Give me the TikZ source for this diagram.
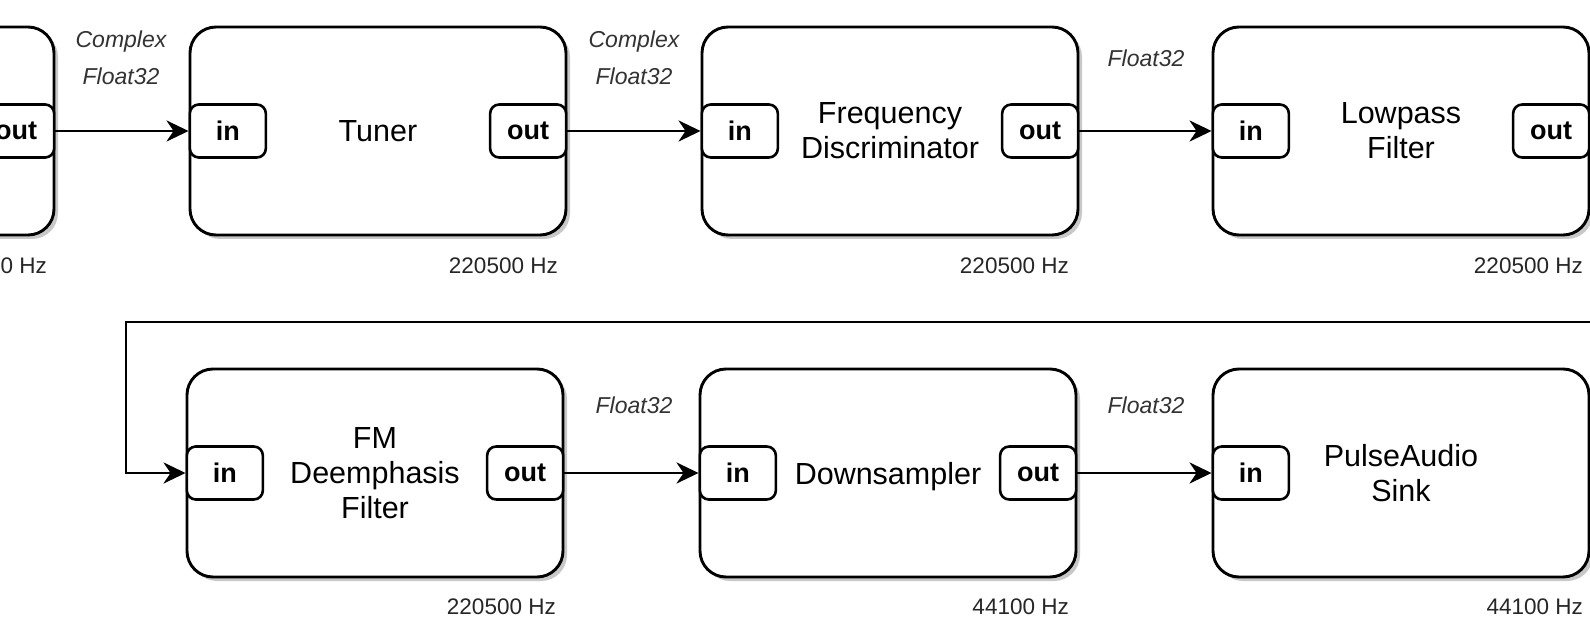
\documentclass[tikz,border=0pt]{standalone}
\usepackage{fontspec}
\setmainfont{Liberation Sans}
\usetikzlibrary{arrows.meta,shadows}
\newcommand\blkfont{\fontsize{30.5}{35}\selectfont}
\newcommand\prtfont{\fontsize{27}{30}\selectfont\bfseries}
\newcommand\hzfont{\fontsize{22.5}{26}\selectfont}
\newcommand\edgfont{\fontsize{23}{26}\selectfont\itshape}
\tikzset{
  blockbox/.style={draw, line width=2.9pt, rounded corners=26pt,
    minimum width=376pt, minimum height=208pt, fill=white, inner sep=0pt,
    font=\blkfont, align=center,
    drop shadow={shadow xshift=4pt, shadow yshift=-4pt, fill=black!30, opacity=0.7}},
  portbox/.style={draw, line width=2.6pt, rounded corners=9pt,
    minimum width=76pt, minimum height=53pt, fill=white, inner sep=0pt, font=\prtfont},
  hzlabel/.style={font=\hzfont, text=black!85, anchor=east, inner sep=0pt},
  edgelabel/.style={font=\edgfont, text=black!80, anchor=base, inner sep=0pt},
  conn/.style={line width=2.9pt, -{Stealth[length=22pt, width=21pt, inset=7pt]}},
}
\begin{document}
\begin{tikzpicture}[x=1pt,y=-1pt]
\useasboundingbox (0,0) rectangle (1590,636);
\fill[white] (0,0) rectangle (1590,636);
\clip (0,0) rectangle (1590,636);

% row 1
\node[blockbox] (src) at (-134,131) {};
\node[blockbox] (tuner) at (378,131) {Tuner};
\node[blockbox] (fdisc) at (890,131) {Frequency\\Discriminator};
\node[blockbox] (lowp) at (1401,131) {Lowpass\\Filter};

% row 2
\node[blockbox] (fmde) at (375,473) {FM\\Deemphasis\\Filter};
\node[blockbox] (down) at (888,473) {\raisebox{-4pt}[\height][\depth]{Downsampler}};
\node[blockbox] (pulse) at (1401,473) {PulseAudio\\Sink};

% ports
\node[portbox, anchor=east] (srcout) at (src.east) {out};
\node[portbox, anchor=west] (tunerin) at (tuner.west) {in};
\node[portbox, anchor=east] (tunerout) at (tuner.east) {out};
\node[portbox, anchor=west] (fdiscin) at (fdisc.west) {in};
\node[portbox, anchor=east] (fdiscout) at (fdisc.east) {out};
\node[portbox, anchor=west] (lowpin) at (lowp.west) {in};
\node[portbox, anchor=east] (lowpout) at (lowp.east) {out};
\node[portbox, anchor=west] (fmdein) at (fmde.west) {in};
\node[portbox, anchor=east] (fmdeout) at (fmde.east) {out};
\node[portbox, anchor=west] (downin) at (down.west) {in};
\node[portbox, anchor=east] (downout) at (down.east) {out};
\node[portbox, anchor=west] (pulsein) at (pulse.west) {in};

% rate labels
\node[hzlabel] (srchz) at (47,265.5) {0 Hz};
\node[hzlabel] (tunerhz) at (558,265.5) {220500 Hz};
\node[hzlabel] (fdischz) at (1069,265.5) {220500 Hz};
\node[hzlabel] (lowphz) at (1583,265.5) {220500 Hz};
\node[hzlabel] (fmdehz) at (556,607) {220500 Hz};
\node[hzlabel] (downhz) at (1069,607) {44100 Hz};
\node[hzlabel] (pulsehz) at (1583,607) {44100 Hz};

% edge labels
\node[edgelabel] (e1a) at (121,48) {Complex};
\node[edgelabel] (e1b) at (121,85) {Float32};
\node[edgelabel] (e2a) at (634,48) {Complex};
\node[edgelabel] (e2b) at (634,85) {Float32};
\node[edgelabel] (e3) at (1146,67) {Float32};
\node[edgelabel] (e4) at (634,413) {Float32};
\node[edgelabel] (e5) at (1146,413) {Float32};

% connectors
\coordinate (turn) at (126,322);
\draw[conn] (srcout.east) -- (tunerin.west);
\draw[conn] (tunerout.east) -- (fdiscin.west);
\draw[conn] (fdiscout.east) -- (lowpin.west);
\draw[conn] (lowpout.east) -- ++(30,0) |- (turn) |- (fmdein.west);
\draw[conn] (fmdeout.east) -- (downin.west);
\draw[conn] (downout.east) -- (pulsein.west);
\end{tikzpicture}
\end{document}
